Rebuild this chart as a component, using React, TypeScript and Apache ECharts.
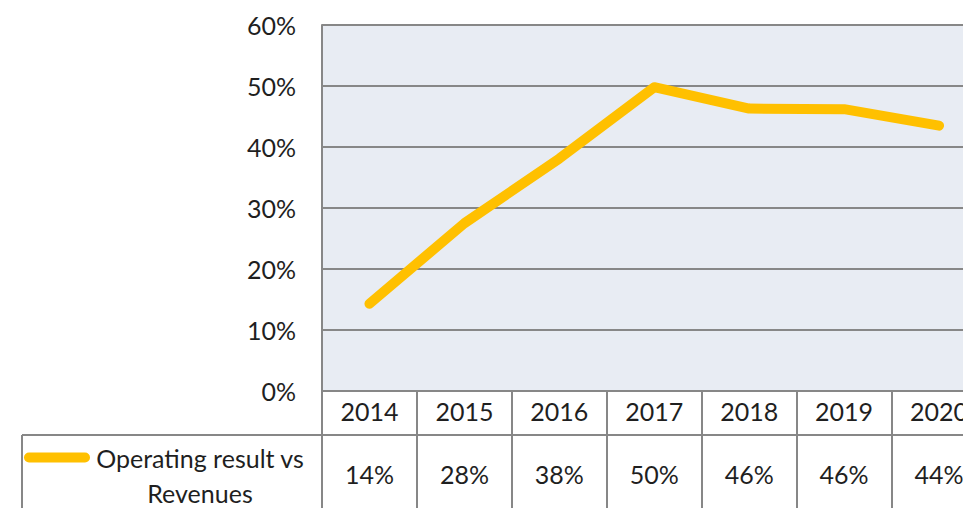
import React, { useEffect, useRef } from "react";
import * as echarts from "echarts";

const years = ["2014", "2015", "2016", "2017", "2018", "2019", "2020"];
const seriesName = "Operating result vs Revenues";
const values = [14.3, 27.5, 38.1, 49.8, 46.3, 46.2, 43.5];
const tableLabels = ["14%", "28%", "38%", "50%", "46%", "46%", "44%"];
const yTicks = { min: 0, max: 60, interval: 10 };

const FONT = "Lato";
const TEXT = "#1F1F1F";
const GRID_LINE = "#878787";
const LINE_COLOR = "#FFC000";

export default function App() {
  const ref = useRef<HTMLDivElement>(null);
  useEffect(() => {
    if (!ref.current) return;
    const chart = echarts.init(ref.current, undefined, { renderer: "svg" });
    const labelStyle = { fontFamily: FONT, fontSize: 25, color: TEXT };
    chart.setOption({
      animation: false,
      textStyle: { fontFamily: FONT },
      grid: {
        left: 322,
        top: 25,
        width: 664.5,
        height: 366,
        show: true,
        backgroundColor: "#E8ECF3",
        borderWidth: 0,
      },
      legend: {
        left: 24,
        top: 405,
        padding: 0,
        icon: "path://M5 0H61A5 5 0 0 1 61 10H5A5 5 0 0 1 5 0Z",
        itemWidth: 66,
        itemHeight: 10,
        data: [seriesName],
        formatter: () => "{a|Operating result vs}\n{b|Revenues}",
        textStyle: {
          ...labelStyle,
          lineHeight: 35,
          padding: [35, 0, 0, 0],
          rich: {
            a: { ...labelStyle, lineHeight: 35, width: 210, align: "center" },
            b: { ...labelStyle, lineHeight: 35, width: 210, align: "center" },
          },
        },
      },
      xAxis: [
        {
          type: "category",
          data: years,
          boundaryGap: true,
          axisLine: { show: true, lineStyle: { color: GRID_LINE, width: 2 } },
          axisTick: {
            show: true,
            interval: 0,
            length: 117,
            lineStyle: { color: GRID_LINE, width: 2 },
          },
          axisLabel: { ...labelStyle, margin: 7, interval: 0 },
          splitLine: { show: false },
        },
        {
          type: "category",
          data: years,
          position: "bottom",
          offset: 44,
          axisLine: { show: false },
          axisTick: { show: false },
          axisLabel: {
            ...labelStyle,
            margin: 26,
            interval: 0,
            formatter: (_v: string, i: number) => tableLabels[i],
          },
          splitLine: { show: false },
        },
      ],
      yAxis: {
        type: "value",
        min: yTicks.min,
        max: yTicks.max,
        interval: yTicks.interval,
        axisLine: { show: true, lineStyle: { color: GRID_LINE, width: 2 } },
        axisTick: { show: false },
        splitLine: { show: true, lineStyle: { color: GRID_LINE, width: 2 } },
        axisLabel: { ...labelStyle, margin: 26, formatter: "{value}%" },
      },
      graphic: [
        {
          type: "line",
          shape: { x1: 22, y1: 435, x2: 1000, y2: 435 },
          style: { stroke: GRID_LINE, lineWidth: 2 },
        },
        {
          type: "line",
          shape: { x1: 22, y1: 435, x2: 22, y2: 508 },
          style: { stroke: GRID_LINE, lineWidth: 2 },
        },
      ],
      series: [
        {
          name: seriesName,
          type: "line",
          xAxisIndex: 0,
          data: values,
          symbol: "none",
          lineStyle: { width: 10, color: LINE_COLOR, cap: "round", join: "round" },
          itemStyle: { color: LINE_COLOR },
          z: 5,
        },
      ],
    });
    return () => chart.dispose();
  }, []);
  return (
    <div
      style={{
        position: "fixed",
        left: 0,
        top: 0,
        width: 963,
        height: 508,
        overflow: "hidden",
        background: "#fff",
      }}
    >
      <div ref={ref} style={{ width: 1000, height: 508 }} />
    </div>
  );
}
